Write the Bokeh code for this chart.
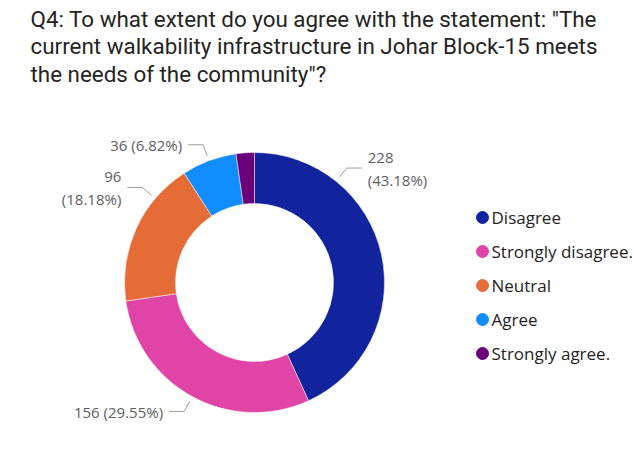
import numpy as np
from bokeh.plotting import figure
from bokeh.models import Range1d, ColumnDataSource
from bokeh.core.properties import value
from bokeh.embed import file_html
from bokeh.resources import INLINE

# ---- data ----
categories = ["Disagree", "Strongly disagree.", "Neutral", "Agree", "Strongly agree."]
counts = [228, 156, 96, 36, 12]
colors = ["#12239E", "#E044A7", "#E66C37", "#118DFF", "#6B007B"]
title_lines = ['Q4: To what extent do you agree with the statement: "The',
               'current walkability infrastructure in Johar Block-15 meets',
               'the needs of the community"?']

# label styling (where along each slice the leader line starts, wrapping)
show_label = [True, True, True, True, False]
anchor_frac = [0.25, 0.5, 0.74, 0.5, 0.5]
wrap_label = [True, False, True, False, False]

W, H = 634, 450
p = figure(width=W, height=H, x_range=Range1d(0, W), y_range=Range1d(0, H),
           output_backend="svg", toolbar_location=None, min_border=0)
p.axis.visible = False
p.grid.visible = False
p.outline_line_color = None
p.background_fill_color = "white"
p.border_fill_color = "white"

def Y(y):
    return H - y

cx, cy = 254, Y(282)
r_in, r_out = 79, 130

total = float(sum(counts))
fracs = np.array(counts) / total
cum = np.concatenate([[0], np.cumsum(fracs)])
start = np.pi / 2 - 2 * np.pi * cum[:-1]
end = np.pi / 2 - 2 * np.pi * cum[1:]

src = ColumnDataSource(dict(start=start, end=end, color=colors))
p.annular_wedge(x=cx, y=cy, inner_radius=r_in, outer_radius=r_out,
                start_angle="start", end_angle="end", direction="clock",
                color="color", line_color="white", line_width=0.5, source=src)

# data labels with leader lines
for i, c in enumerate(counts):
    if not show_label[i]:
        continue
    a = start[i] - anchor_frac[i] * (start[i] - end[i])
    ax, ay = cx + 135 * np.cos(a), cy + 135 * np.sin(a)
    ex, ey = cx + 147 * np.cos(a), cy + 147 * np.sin(a)
    side = 1 if np.cos(a) >= 0 else -1
    hx = ex + side * 15
    p.line([ax, ex, hx], [ay, ey, ey], line_color="#A19F9D", line_width=1)
    pct = f"({100 * c / total:.2f}%)"
    txt = f"{c}\n{pct}" if wrap_label[i] else f"{c} {pct}"
    p.text(x=[hx + side * 6], y=[ey], text=[txt],
           text_align="left" if side > 0 else "right", text_baseline="middle",
           text_font=value("Open Sans"), text_font_size="15px",
           text_color="#605E5C", text_line_height=1.15)

# legend
for i, cat in enumerate(categories):
    ly = Y(217 + 34 * i)
    p.scatter([482], [ly], size=12, marker="circle", color=colors[i])
    p.text(x=[491], y=[ly], text=[cat], text_align="left", text_baseline="middle",
           text_font=value("Open Sans"), text_font_size="17px", text_color="#252423")

# title
for j, line in enumerate(title_lines):
    p.text(x=[30], y=[Y(18 + 27.5 * j)], text=[line], text_align="left",
           text_baseline="middle", text_font=value("Roboto"),
           text_font_size="22.4px", text_color="#252423")

open("out.html", "w").write(file_html(p, INLINE))
